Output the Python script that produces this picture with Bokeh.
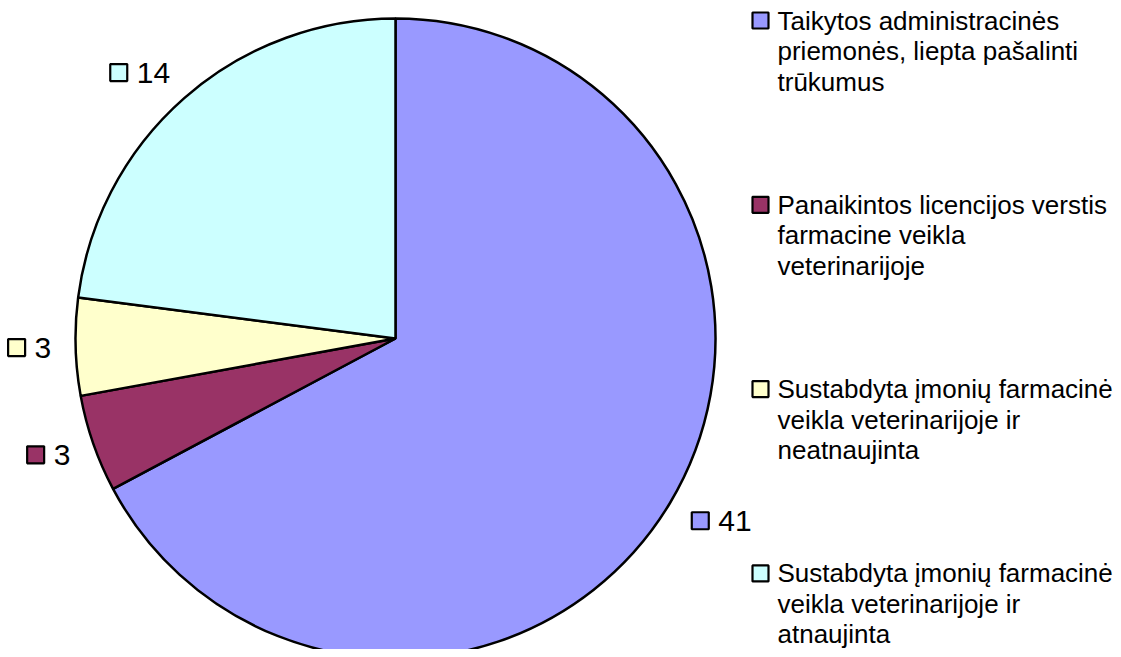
import numpy as np
from bokeh.plotting import figure
from bokeh.models import Range1d, ColumnDataSource
from bokeh.core.properties import value
from bokeh.embed import file_html
from bokeh.resources import INLINE

# ---- data ----
categories = [
    "Taikytos administracinės\npriemonės, liepta pašalinti\ntrūkumus",
    "Panaikintos licencijos verstis\nfarmacine veikla\nveterinarijoje",
    "Sustabdyta įmonių farmacinė\nveikla veterinarijoje ir\nneatnaujinta",
    "Sustabdyta įmonių farmacinė\nveikla veterinarijoje ir\natnaujinta",
]
values = [41, 3, 3, 14]
colors = ["#9999FF", "#993366", "#FFFFCC", "#CCFFFF"]

FONT = value("Liberation Sans")
H = 657

p = figure(width=1113, height=649, output_backend="svg", toolbar_location=None,
           x_range=Range1d(0, 1113), y_range=Range1d(8, 657), min_border=0)
p.axis.visible = False
p.grid.visible = False
p.outline_line_color = None
p.background_fill_color = "white"
p.border_fill_color = "white"

# ---- pie ----
cx, cy, r = 395, H - 338, 320
vals = np.array(values, dtype=float)
frac = vals / vals.sum()
cum = np.concatenate([[0], np.cumsum(frac)])
start = np.deg2rad(90 - 360 * cum[:-1])
end = np.deg2rad(90 - 360 * cum[1:])
src = ColumnDataSource(dict(start=start, end=end, color=colors))
p.wedge(x=cx, y=cy, radius=r, start_angle="start", end_angle="end", direction="clock",
        fill_color="color", line_color="black", line_width=2.5, source=src)

# ---- data labels (outside end) ----
mid = (start + end) / 2
d = 25
lx, ly, tx, txt, lc = [], [], [], [], []
for m, v, c in zip(mid, values, colors):
    s = str(v)
    w = 20 + 8 + 15 * len(s)
    h = 18
    ex, ey = cx + r * np.cos(m), cy + r * np.sin(m)
    bx = ex + d * np.cos(m) + np.sign(np.cos(m)) * w / 2
    by = ey + d * np.sin(m) + np.sin(m) * h / 2
    left = bx - w / 2
    lx.append(left + 9)
    ly.append(by)
    tx.append(left + 27)
    txt.append(s)
    lc.append(c)
p.rect(x=lx, y=ly, width=17, height=17, fill_color=lc, line_color="black", line_width=2.2)
p.text(x=tx, y=ly, text=txt, text_font=FONT, text_font_size="30px",
       text_baseline="middle", text_align="left", text_color="black")

# ---- legend ----
leg_sq_x, leg_tx_x = 760, 777
first_y, item_gap, line_gap = 20, 184.3, 30.5
sqx, sqy, sqc = [], [], []
lt_x, lt_y, lt_t = [], [], []
for i, (cat, c) in enumerate(zip(categories, colors)):
    y0 = first_y + i * item_gap
    sqx.append(leg_sq_x)
    sqy.append(H - y0)
    sqc.append(c)
    for j, line in enumerate(cat.split("\n")):
        lt_x.append(leg_tx_x)
        lt_y.append(H - (y0 + j * line_gap))
        lt_t.append(line)
p.rect(x=sqx, y=sqy, width=16, height=16, fill_color=sqc, line_color="black", line_width=2.2)
p.text(x=lt_x, y=lt_y, text=lt_t, text_font=FONT, text_font_size="26px",
       text_baseline="middle", text_align="left", text_color="black")

open("out.html", "w").write(file_html(p, INLINE))
